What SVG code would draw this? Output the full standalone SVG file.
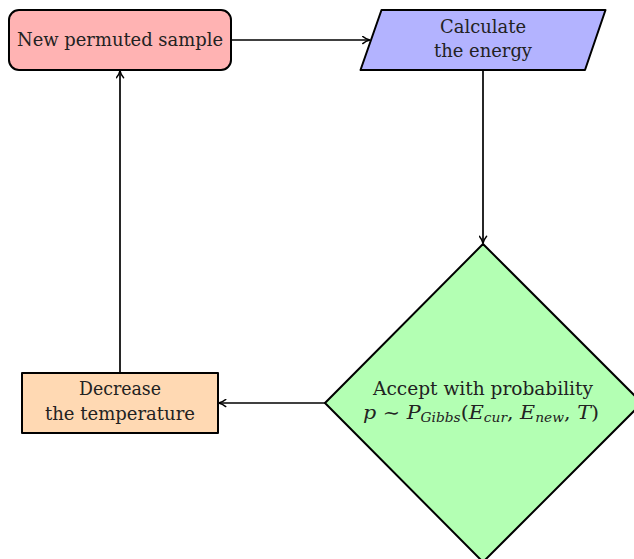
<svg xmlns="http://www.w3.org/2000/svg" width="634" height="559" viewBox="0 0 634 559">
<defs>
<marker id="arr" viewBox="0 0 10 10" refX="9" refY="5" markerWidth="9" markerHeight="9" markerUnits="userSpaceOnUse" orient="auto">
<path d="M1.5,1 Q5,4 9.5,5 Q5,6 1.5,9" fill="none" stroke="#000" stroke-width="1.6" stroke-linecap="round" stroke-linejoin="round"/>
</marker>
</defs>
<style>
.n{stroke:#000;stroke-width:2;stroke-linejoin:round}
.t{font-family:"DejaVu Serif","Liberation Serif",serif;font-size:18px;fill:#222;text-anchor:middle}
.c{fill:none;stroke:#000;stroke-width:1.7;marker-end:url(#arr)}
.i{font-style:italic}
.s{font-size:12px;font-style:italic}
</style>
<rect width="634" height="559" fill="#fff"/>
<g id="connectors">
<line class="c" x1="231" y1="40" x2="369.5" y2="40"/>
<line class="c" x1="483" y1="70" x2="483" y2="243"/>
<line class="c" x1="325" y1="403" x2="219" y2="403"/>
<line class="c" x1="120" y1="373" x2="120" y2="71"/>
</g>
<g id="node-sample">
<rect class="n" x="9" y="10" width="222" height="60" rx="10" fill="#ffb3b3"/>
<text class="t" x="120" y="46" textLength="206" lengthAdjust="spacingAndGlyphs">New permuted sample</text>
</g>
<g id="node-energy">
<polygon class="n" points="381.5,10 605.5,10 585,70 360.5,70" fill="#b3b3ff"/>
<text class="t" x="483" y="33" textLength="86" lengthAdjust="spacingAndGlyphs">Calculate</text>
<text class="t" x="483" y="57" textLength="98" lengthAdjust="spacingAndGlyphs">the energy</text>
</g>
<g id="node-accept">
<polygon class="n" points="483,244 642,403 483,562 325,403" fill="#b3ffb3"/>
<text class="t" x="483" y="395" textLength="220" lengthAdjust="spacingAndGlyphs">Accept with probability</text>
<text class="t" x="481" y="419" textLength="236" lengthAdjust="spacingAndGlyphs"><tspan class="i">p</tspan> ∼ <tspan class="i">P</tspan><tspan class="s" dy="3">Gibbs</tspan><tspan dy="-3">(</tspan><tspan class="i">E</tspan><tspan class="s" dy="3">cur</tspan><tspan dy="-3">, </tspan><tspan class="i">E</tspan><tspan class="s" dy="3">new</tspan><tspan dy="-3">, </tspan><tspan class="i">T</tspan>)</text>
</g>
<g id="node-decrease">
<rect class="n" x="22" y="373" width="196" height="60" fill="#ffd9b3"/>
<text class="t" x="120" y="395" textLength="82" lengthAdjust="spacingAndGlyphs">Decrease</text>
<text class="t" x="120" y="420" textLength="150" lengthAdjust="spacingAndGlyphs">the temperature</text>
</g>
</svg>
